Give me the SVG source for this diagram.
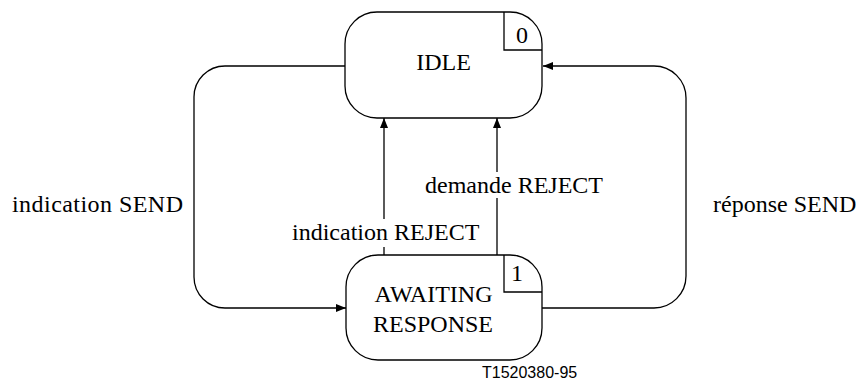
<svg xmlns="http://www.w3.org/2000/svg" width="858" height="387" viewBox="0 0 858 387">
<style>
.box{fill:#fff;stroke:#000;stroke-width:1.3}
.ln{fill:none;stroke:#000;stroke-width:1.3}
.t{font-family:"Liberation Serif","Times New Roman",serif;font-size:24px;fill:#000}
.bg{fill:#fff}
.ft{font-family:"Liberation Sans",Arial,sans-serif;font-size:16px;fill:#000}
</style>
<defs>
<marker id="ah" viewBox="0 0 10 8" refX="10" refY="4" markerWidth="10" markerHeight="8" markerUnits="userSpaceOnUse" orient="auto">
<path d="M0,0 L10,4 L0,8 Z" fill="#000"/>
</marker>
</defs>
<g id="connectors">
<path class="ln" d="M345,66 H225 A31,31 0 0 0 194,97 V277 A31,31 0 0 0 225,308 H346" marker-end="url(#ah)"/>
<path class="ln" d="M542,308 H654 A32,32 0 0 0 686,276 V98 A32,32 0 0 0 654,66 H543" marker-end="url(#ah)"/>
<path class="ln" d="M384,255 V118" marker-end="url(#ah)"/>
<path class="ln" d="M497,255 V118" marker-end="url(#ah)"/>
</g>
<g id="labels">
<rect class="bg" x="420" y="172" width="178" height="26"/>
<text class="t" x="425" y="193">demande REJECT</text>
<rect class="bg" x="288" y="219" width="192" height="28"/>
<text class="t" x="292" y="240">indication REJECT</text>
<text class="t" x="12" y="212" textLength="171">indication SEND</text>
<text class="t" x="713" y="212">réponse SEND</text>
</g>
<g id="idle">
<rect class="box" x="345" y="12" width="197" height="106" rx="32" ry="32"/>
<path class="ln" d="M504,12 V50 H542"/>
<text class="t" x="522" y="43" text-anchor="middle">0</text>
<text class="t" x="443.5" y="70" text-anchor="middle">IDLE</text>
</g>
<g id="awaiting">
<rect class="box" x="346" y="255" width="196" height="105" rx="32" ry="32"/>
<path class="ln" d="M504,255 V292 H542"/>
<text class="t" x="517" y="281" text-anchor="middle">1</text>
<text class="t" x="433.5" y="302" text-anchor="middle">AWAITING</text>
<text class="t" x="433" y="332" text-anchor="middle">RESPONSE</text>
</g>
<text class="ft" x="482" y="378">T1520380-95</text>
</svg>
